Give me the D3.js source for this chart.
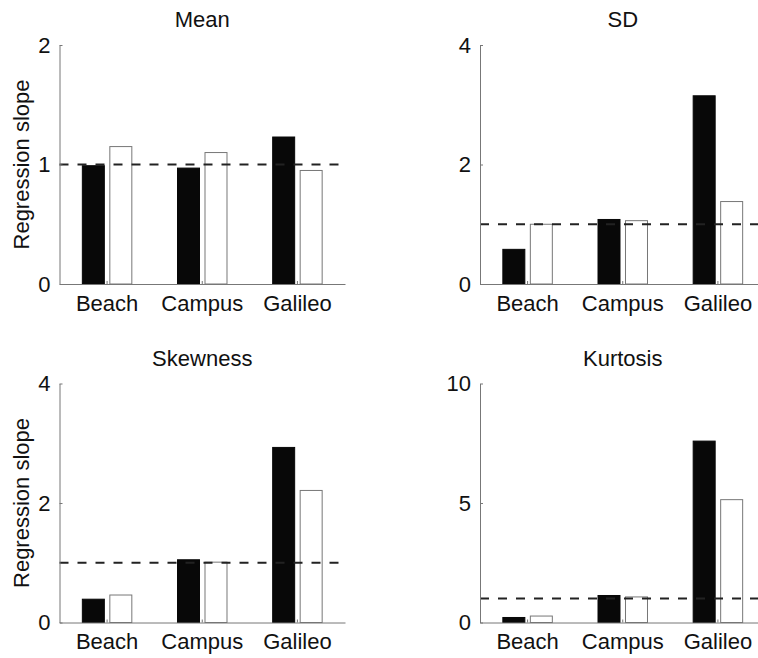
<!DOCTYPE html>
<html>
<head>
<meta charset="utf-8">
<script src="https://cdn.jsdelivr.net/npm/d3@7"></script>
<style>
  body { margin: 0; background: #fff; }
  text { font-family: "Liberation Sans", Arial, Helvetica, sans-serif; fill: #111; }
</style>
</head>
<body>
<div id="chart"></div>
<script>
var categories = ["Beach", "Campus", "Galileo"]
var panelTitles = ["Mean", "SD", "Skewness", "Kurtosis"]

// filled bars / open bars, one row per panel
var filledValues = [
    [0.99, 0.97, 1.23],
    [0.58, 1.08, 3.15],
    [0.39, 1.05, 2.93],
    [0.21, 1.13, 7.59]
]
var openValues = [
    [1.15, 1.10, 0.95],
    [1.00, 1.06, 1.38],
    [0.46, 1.01, 2.21],
    [0.27, 1.07, 5.14]
]
var yMax = [2, 4, 4, 10]
var yTicks = [[0, 1, 2], [0, 2, 4], [0, 2, 4], [0, 5, 10]]
var referenceValue = 1

var svgWidth = 758
var svgHeight = 658
var fontSize = 22

var svg = d3.select("#chart")
    .append("svg")
    .attr("width", svgWidth)
    .attr("height", svgHeight)

svg.append("rect")
    .attr("width", svgWidth)
    .attr("height", svgHeight)
    .attr("fill", "#fff")

var panelLeft = [59.5, 480]
var panelTop = [45, 383.5]
var width = 285.5
var height = 239

panelTitles.forEach(function(title, p) {
    var col = p % 2
    var row = Math.floor(p / 2)

    var chart = svg.append("g")
        .attr("transform", "translate(" + panelLeft[col] + "," + panelTop[row] + ")")

    var x = d3.scaleBand()
        .range([0, width])
        .domain(categories)

    var xInner = d3.scaleBand()
        .range([0.24 * x.bandwidth(), 0.76 * x.bandwidth()])
        .domain(["filled", "open"])
        .paddingInner(0.2)

    var y = d3.scaleLinear()
        .range([height, 0])
        .domain([0, yMax[p]])

    var rows = categories.map(function(c, i) {
        return {category: c, filled: filledValues[p][i], open: openValues[p][i]}
    })

    var groups = chart.selectAll("g.group").data(rows)
        .enter().append("g").attr("class", "group")
        .attr("transform", function(d) {
            return "translate(" + x(d.category) + ",0)"
        })

    groups.selectAll("rect").data(function(d) {
            return [{key: "filled", value: d.filled}, {key: "open", value: d.open}]
        })
        .enter().append("rect")
        .attr("x", function(d) { return xInner(d.key) })
        .attr("width", xInner.bandwidth())
        .attr("y", function(d) { return y(d.value) })
        .attr("height", function(d) { return height - y(d.value) })
        .attr("fill", function(d) { return d.key == "filled" ? "#080808" : "#fff" })
        .attr("stroke", function(d) { return d.key == "filled" ? "#080808" : "#777" })
        .attr("stroke-width", 1)

    // reference line at slope 1
    chart.append("line")
        .attr("x1", 0)
        .attr("x2", width)
        .attr("y1", y(referenceValue))
        .attr("y2", y(referenceValue))
        .attr("stroke", "#222")
        .attr("stroke-width", 2)
        .attr("stroke-dasharray", "9,9")

    var yAxis = d3.axisLeft(y).tickValues(yTicks[p]).tickFormat(d3.format("d"))
        .tickSizeInner(-3).tickSizeOuter(0).tickPadding(9)
    chart.append("g")
        .attr("class", "axis y")
        .call(function(g) { styleAxis(g, yAxis) })

    var xAxis = d3.axisBottom(x).tickSizeInner(-3).tickSizeOuter(0).tickPadding(11)
    chart.append("g")
        .attr("class", "axis x")
        .attr("transform", "translate(0," + height + ")")
        .call(function(g) { styleAxis(g, xAxis) })

    chart.append("text")
        .attr("x", width / 2)
        .attr("y", -18)
        .attr("text-anchor", "middle")
        .style("font-size", fontSize + "px")
        .text(title)

    if (col == 0) {
        chart.append("text")
            .attr("transform", "translate(" + (-38) + "," + (height / 2) + ") rotate(-90)")
            .attr("text-anchor", "middle")
            .attr("dy", "0.35em")
            .style("font-size", fontSize + "px")
            .text("Regression slope")
    }
})

function styleAxis(g, axis) {
    g.call(axis)
    g.select(".domain").attr("stroke", "#777").attr("stroke-width", 1)
    g.selectAll("line").attr("stroke", "#777")
    g.selectAll("text").style("font-size", fontSize + "px").attr("fill", "#111")
}
</script>
</body>
</html>
